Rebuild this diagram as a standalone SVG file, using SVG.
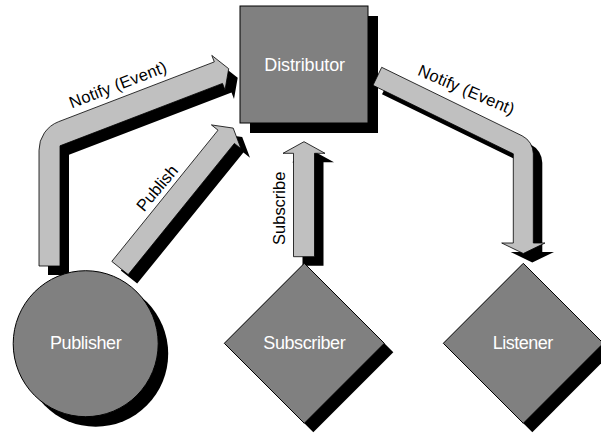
<svg xmlns="http://www.w3.org/2000/svg" width="601" height="435" viewBox="0 0 601 435">
  <style>
    .node { fill: #808080; stroke: #000; stroke-width: 1; }
    .shadow { fill: #000; }
    .arrow { fill: #c0c0c0; stroke: #000; stroke-width: 0.8; stroke-linejoin: miter; }
    .nlabel { font-family: "Liberation Sans", Arial, sans-serif; font-size: 18px; fill: #fff; text-anchor: middle; }
    .clabel { font-family: "Liberation Sans", Arial, sans-serif; font-size: 16.5px; fill: #000; text-anchor: middle; }
  </style>
  <defs>
    <!-- block arrow outlines -->
    <path id="a-notify-in" d="M39,266 L39,150.2 A30.5,30.5 0 0 1 58.6,121.7 L214.3,61.9 L211.8,55.4 L228.7,68.7 L225,89.9 L222.5,83.4 L60,145.8 L60,266 Z"/>
    <path id="a-publish" d="M111.8,261.4 L218,130.2 L211.4,124.9 L233.2,128.1 L241,148.8 L234.4,143.4 L128.2,274.6 Z"/>
    <path id="a-subscribe" d="M293.5,256.7 L293.5,153.3 L283,153.3 L304,141.7 L325,153.3 L314.5,153.3 L314.5,256.7 Z"/>
    <path id="a-notify-out" d="M381.7,67.3 L522.1,135.8 A20,20 0 0 1 533.3,153.8 L533.3,243 L545,243 L523.3,253.5 L501.7,243 L513.3,243 L513.3,153.8 L373,85.3 Z"/>
    <polygon id="diamond" points="0,-80 80,0 0,80 -80,0"/>
  </defs>

  <rect width="601" height="435" fill="#fff"/>

  <g id="distributor">
    <rect class="shadow" x="250" y="16" width="128" height="117"/>
    <rect class="node" x="240" y="6" width="128" height="117" stroke="#333"/>
    <text class="nlabel" x="304.7" y="71" textLength="80.7">Distributor</text>
  </g>

  <g id="connectors">
    <g transform="translate(9,9)" class="shadow">
      <use href="#a-notify-in"/>
      <use href="#a-publish"/>
      <use href="#a-subscribe"/>
      <use href="#a-notify-out"/>
    </g>
    <use href="#a-notify-in" class="arrow"/>
    <use href="#a-publish" class="arrow"/>
    <use href="#a-subscribe" class="arrow"/>
    <use href="#a-notify-out" class="arrow"/>
    <text class="clabel" x="119.9" y="90" textLength="103" transform="rotate(-21 119.9 90)">Notify (Event)</text>
    <text class="clabel" x="161.4" y="191.8" transform="rotate(-50 161.4 191.8)">Publish</text>
    <text class="clabel" x="285" y="208.3" textLength="73.3" transform="rotate(-90 285 208.3)">Subscribe</text>
    <text class="clabel" x="464.2" y="95" textLength="103" transform="rotate(23 464.2 95)">Notify (Event)</text>
  </g>

  <g id="publisher">
    <ellipse class="shadow" cx="95.7" cy="353.7" rx="72.5" ry="73"/>
    <ellipse class="node" cx="85.7" cy="343.7" rx="72.5" ry="73"/>
    <text class="nlabel" x="85.8" y="349.3" textLength="71.7">Publisher</text>
  </g>

  <g id="subscriber">
    <use href="#diamond" class="shadow" transform="translate(313.3,352.3)"/>
    <use href="#diamond" class="node" transform="translate(304.3,343.3)"/>
    <text class="nlabel" x="304.5" y="349.3" textLength="82.4">Subscriber</text>
  </g>

  <g id="listener">
    <use href="#diamond" class="shadow" transform="translate(532.3,352.3)"/>
    <use href="#diamond" class="node" transform="translate(523.3,343.3)"/>
    <text class="nlabel" x="523" y="349.3" textLength="60.7">Listener</text>
  </g>
</svg>
